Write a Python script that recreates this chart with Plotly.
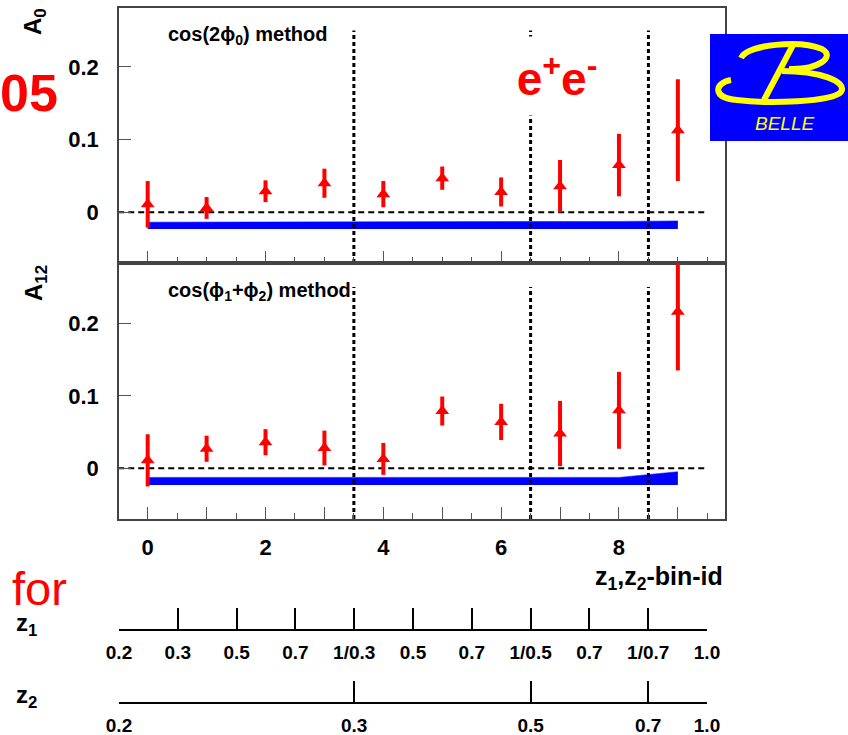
import plotly.graph_objects as go

W, H = 848, 735

# ---------------- data ----------------
bins = [0, 1, 2, 3, 4, 5, 6, 7, 8, 9]
bin_labels = ["0", "", "2", "", "4", "", "6", "", "8", ""]

a0 = [0.011, 0.006, 0.029, 0.040, 0.025, 0.047, 0.028, 0.036, 0.065, 0.113]
a0_err = [0.032, 0.015, 0.015, 0.020, 0.018, 0.016, 0.020, 0.036, 0.043, 0.070]
a0_sys = [0.0095, 0.0095, 0.0095, 0.0095, 0.0095, 0.0095, 0.0097, 0.0100, 0.0105, 0.0112]

a12 = [0.011, 0.027, 0.036, 0.028, 0.013, 0.079, 0.064, 0.048, 0.080, 0.216]
a12_err = [0.036, 0.018, 0.018, 0.024, 0.022, 0.020, 0.025, 0.045, 0.053, 0.081]
a12_sys = [0.0105, 0.0105, 0.0105, 0.0105, 0.0105, 0.0105, 0.0105, 0.0105, 0.0105, 0.0183]

band_base = -0.023

y_ticks = [0, 0.1, 0.2]
y_ticktext = ["0", "0.1", "0.2"]

division_edges = [3.5, 6.5, 8.5]
division_top = 0.25

z1_edges = [-0.5, 0.5, 1.5, 2.5, 3.5, 4.5, 5.5, 6.5, 7.5, 8.5, 9.5]
z1_labels = ["0.2", "0.3", "0.5", "0.7", "1/0.3", "0.5", "0.7", "1/0.5", "0.7", "1/0.7", "1.0"]
z2_edges = [-0.5, 3.5, 6.5, 8.5, 9.5]
z2_labels = ["0.2", "0.3", "0.5", "0.7", "1.0"]

FONT = "Liberation Sans, Arial, sans-serif"


def px(x):
    return x / W


def py(y):
    return 1 - y / H


fig = go.Figure()

top_range = [-0.0697, 0.281]
bot_range = [-0.0699, 0.2832]

panels = [
    ("x", "y", a0, a0_err, a0_sys, top_range),
    ("x2", "y2", a12, a12_err, a12_sys, bot_range),
]

for xr, yr, vals, errs, sys, yrng in panels:
    # systematic band
    fig.add_trace(go.Scatter(x=bins, y=[band_base] * len(bins), mode="lines",
                             line=dict(width=0, color="#0000ff"), xaxis=xr, yaxis=yr,
                             showlegend=False, hoverinfo="skip"))
    fig.add_trace(go.Scatter(x=bins, y=[band_base + s for s in sys], mode="lines",
                             line=dict(width=0.5, color="#0000ff"), fill="tonexty",
                             fillcolor="#0000ff", xaxis=xr, yaxis=yr,
                             showlegend=False, hoverinfo="skip"))
    # zero dashed line
    fig.add_trace(go.Scatter(x=[z1_edges[0], z1_edges[-1]], y=[0, 0], mode="lines",
                             line=dict(width=2, color="black", dash="6px,4px"),
                             xaxis=xr, yaxis=yr, showlegend=False, hoverinfo="skip"))
    # vertical division lines
    vx, vy = [], []
    for b in division_edges:
        vx += [b, b, None]
        vy += [yrng[0], division_top, None]
    fig.add_trace(go.Scatter(x=vx, y=vy, mode="lines",
                             line=dict(width=3, color="black", dash="4px,3px"),
                             xaxis=xr, yaxis=yr, showlegend=False, hoverinfo="skip"))
    # data points
    fig.add_trace(go.Scatter(x=bins, y=vals, mode="markers",
                             marker=dict(symbol="triangle-up", size=12, color="red",
                                         line=dict(width=0)),
                             error_y=dict(type="data", array=errs, thickness=4, width=0,
                                          color="red"),
                             xaxis=xr, yaxis=yr, showlegend=False))

# empty traces for the z scales
fig.add_trace(go.Scatter(x=[], y=[], xaxis="x3", yaxis="y3", showlegend=False))
fig.add_trace(go.Scatter(x=[], y=[], xaxis="x4", yaxis="y4", showlegend=False))

xrange_main = [-0.487, 9.80]
frame = dict(showline=True, mirror=True, linecolor="#444", linewidth=1.5,
             showgrid=False, zeroline=False, automargin=False)

xcommon = dict(range=xrange_main, domain=[px(119), px(725)], ticks="inside",
               tickmode="array", tickvals=bins, ticktext=bin_labels, ticklen=12,
               tickcolor="#555", tickwidth=1,
               minor=dict(ticks="inside", dtick=0.5, tick0=0, ticklen=6,
                          tickcolor="#555", tickwidth=1),
               **frame)

ycommon = dict(ticks="inside", tickmode="array", tickvals=y_ticks, ticktext=y_ticktext,
               ticklen=12, tickcolor="#555", tickwidth=1,
               tickfont=dict(family=FONT, size=22, color="black", weight="bold"),
               ticklabelstandoff=14, **frame)

zaxis = dict(range=[z1_edges[0], z1_edges[-1]], domain=[px(119), px(707)],
             showline=True, linecolor="black", linewidth=1.5, ticks="inside",
             ticklen=21, tickwidth=2, tickcolor="black", showgrid=False, zeroline=False,
             tickmode="array", automargin=False,
             tickfont=dict(family=FONT, size=19, color="black", weight="bold"),
             ticklabelstandoff=5)

fig.update_layout(
    width=W, height=H,
    autosize=False,
    margin=dict(l=0, r=0, t=0, b=0, pad=0, autoexpand=False),
    paper_bgcolor="white", plot_bgcolor="white",
    showlegend=False,
    xaxis=dict(anchor="y", showticklabels=False, **xcommon),
    xaxis2=dict(anchor="y2", showticklabels=True,
                tickfont=dict(family=FONT, size=22, color="black", weight="bold"),
                ticklabelstandoff=8, **xcommon),
    yaxis=dict(anchor="x", domain=[py(263), py(8)], range=top_range, **ycommon),
    yaxis2=dict(anchor="x2", domain=[py(519), py(263)], range=bot_range, **ycommon),
    xaxis3=dict(anchor="y3", tickvals=z1_edges, ticktext=z1_labels, **zaxis),
    yaxis3=dict(anchor="x3", domain=[py(629), py(607)], range=[0, 1], visible=False),
    xaxis4=dict(anchor="y4", tickvals=z2_edges, ticktext=z2_labels, **zaxis),
    yaxis4=dict(anchor="x4", domain=[py(702), py(681)], range=[0, 1], visible=False),
)

ann = []


def text(t, x, y, size, color="black", bold=True, xanchor="center", yanchor="middle",
         angle=0, italic=False, **kw):
    ann.append(dict(text=t, x=px(x), y=py(y), xref="paper", yref="paper",
                    xanchor=xanchor, yanchor=yanchor, showarrow=False, textangle=angle,
                    font=dict(family=FONT, size=size, color=color,
                              weight="bold" if bold else "normal",
                              style="italic" if italic else "normal"), **kw))


text("A<sub>0</sub>", 35, 22, 24, angle=-90)
text("A<sub>12</sub>", 35, 283, 24, angle=-90)
text("cos(2ϕ<sub>0</sub>) method", 166, 35, 20, xanchor="left")
text("cos(ϕ<sub>1</sub>+ϕ<sub>2</sub>) method", 166, 292, 20, xanchor="left")
text("z<sub>1</sub>,z<sub>2</sub>-bin-id", 725, 578, 25, xanchor="right")
text("z<sub>1</sub>", 14, 624, 24, xanchor="left")
text("z<sub>2</sub>", 14, 696, 24, xanchor="left")
text("05", 60, 93, 52, color="red", xanchor="right")
text("for", 10, 588, 47, color="red", bold=False, xanchor="left")
text("e<sup>+</sup>e<sup>-</sup>", 557, 76, 46, color="red",
     bgcolor="white", width=100, height=78, borderpad=0)
text("BELLE", 784, 124, 19, color="#ffff00", bold=False, italic=True)

shapes = [
    dict(type="rect", xref="paper", yref="paper", x0=px(710), x1=px(848),
         y0=py(141), y1=py(34), fillcolor="#0000ff", line=dict(width=0), layer="above"),
]


def path(pts_cmds):
    out = []
    for c, pts in pts_cmds:
        out.append(c + " ".join(f"{px(x):.5f},{py(y):.5f}" for x, y in pts))
    return " ".join(out)


yellow = "#ffff00"
shapes.append(dict(type="path", xref="paper", yref="paper", layer="above",
                   path=path([("M", [(741, 58)]),
                              ("C", [(748, 44), (800, 40), (822, 49)]),
                              ("C", [(836, 57), (818, 70), (789, 69)])]),
                   line=dict(color=yellow, width=6)))
shapes.append(dict(type="path", xref="paper", yref="paper", layer="above",
                   path=path([("M", [(731, 80)]),
                              ("C", [(714, 83), (712, 98), (737, 100)]),
                              ("C", [(768, 104), (832, 102), (841, 92)]),
                              ("C", [(848, 81), (818, 71), (782, 71)])]),
                   line=dict(color=yellow, width=6)))
shapes.append(dict(type="path", xref="paper", yref="paper", layer="above",
                   path=path([("M", [(793, 45)]), ("L", [(764, 100)])]),
                   line=dict(color=yellow, width=6)))

fig.update_layout(annotations=ann, shapes=shapes)

fig.write_html("out.html")
